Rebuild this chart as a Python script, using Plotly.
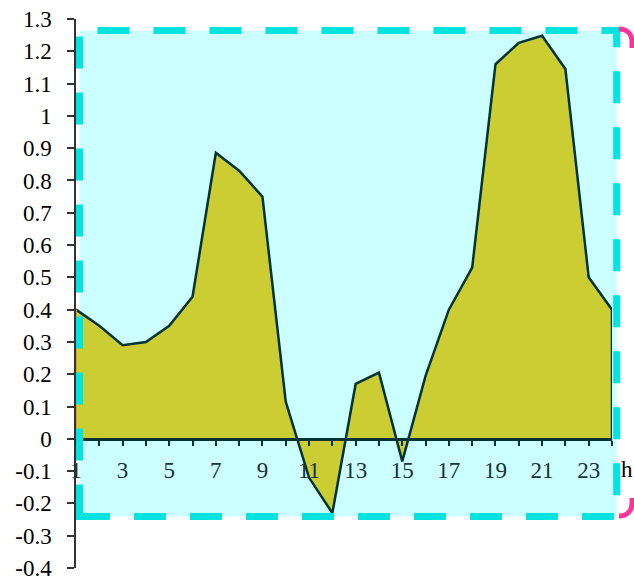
import plotly.graph_objects as go

# Hourly values (h = 1..24)
hours = list(range(1, 25))
values = [0.40, 0.35, 0.29, 0.30, 0.35, 0.44, 0.886, 0.83, 0.75, 0.115, -0.12, -0.23,
          0.17, 0.205, -0.07, 0.195, 0.40, 0.53, 1.16, 1.226, 1.248, 1.145, 0.50, 0.40]

x_tick_vals = hours
x_tick_text = [str(h) if h % 2 == 1 else "" for h in hours]
y_tick_vals = [round(-0.4 + 0.1 * i, 1) for i in range(18)]
y_tick_text = ["-0.4", "-0.3", "-0.2", "-0.1", "0", "0.1", "0.2", "0.3", "0.4", "0.5",
               "0.6", "0.7", "0.8", "0.9", "1", "1.1", "1.2", "1.3"]

W, H = 634, 576
L, R, T, B = 76, 22, 19, 8
PW, PH = W - L - R, H - T - B


def px(x):
    return (x - L) / PW


def py(y):
    return (H - B - y) / PH


SERIF = "Liberation Serif, Times New Roman, serif"
LINE = "#003333"

fig = go.Figure()

fig.add_trace(go.Scatter(
    x=hours, y=values, mode="lines", fill="tozeroy",
    fillcolor="#CCCC33", line=dict(color=LINE, width=2.5),
    hoverinfo="skip", showlegend=False,
))
# closing edges of the area at both ends
fig.add_trace(go.Scatter(
    x=[hours[-1], hours[-1]], y=[values[-1], 0], mode="lines",
    line=dict(color=LINE, width=2.5), hoverinfo="skip", showlegend=False,
))
fig.add_trace(go.Scatter(
    x=[hours[0], hours[0]], y=[0, values[0]], mode="lines",
    line=dict(color="#E8A317", width=2), hoverinfo="skip", showlegend=False,
))

x0, x1, ytop, ybot = 79.5, 616.7, 30.5, 516.5
# pale cyan panel behind the series
fig.add_shape(type="rect", xref="paper", yref="paper",
              x0=px(x0), x1=px(x1), y0=py(ybot), y1=py(ytop),
              fillcolor="#CCFFFF", line=dict(width=0), layer="below")
# dashed cyan frame, traced from the bottom-left corner upward
frame = (f"M{px(x0)},{py(ybot)} V{py(ytop)} H{px(x1)} V{py(ybot)} Z")
fig.add_shape(type="path", xref="paper", yref="paper", path=frame,
              line=dict(color="#00E3DF", width=7, dash="32px,24px"), layer="above")

# pink rounded corners on the right side
tr = (f"M{px(619)},{py(29)} C{px(627)},{py(29)} {px(632)},{py(34)} {px(632)},{py(42)} "
      f"L{px(632)},{py(48)}")
br = (f"M{px(632)},{py(498)} L{px(632)},{py(503)} C{px(632)},{py(511)} "
      f"{px(627)},{py(516)} {px(619)},{py(516)}")
for p in (tr, br):
    fig.add_shape(type="path", xref="paper", yref="paper", path=p,
                  line=dict(color="#FF3399", width=5), layer="above")

fig.add_annotation(text="h", xref="paper", yref="paper", x=px(619), y=py(469),
                   xanchor="left", yanchor="middle", showarrow=False,
                   font=dict(family=SERIF, size=23, color="#000000"))

fig.update_layout(
    width=W, height=H,
    margin=dict(l=L, r=R, t=T, b=B, pad=0, autoexpand=False),
    paper_bgcolor="white", plot_bgcolor="rgba(0,0,0,0)",
    showlegend=False,
    xaxis=dict(
        range=[1, 24], anchor="free", position=0.4 / 1.7, automargin=False,
        showgrid=False, zeroline=False,
        showline=True, linecolor=LINE, linewidth=2.5,
        ticks="outside", ticklen=5, tickwidth=1.5, tickcolor=LINE,
        tickvals=x_tick_vals, ticktext=x_tick_text,
        ticklabelstandoff=5, ticklabeloverflow="allow",
        tickfont=dict(family=SERIF, size=23, color="#1A3333"),
    ),
    yaxis=dict(
        range=[-0.4, 1.3], automargin=False,
        showgrid=False, zeroline=False,
        showline=True, linecolor="#333333", linewidth=1.5,
        ticks="outside", ticklen=7, tickwidth=1.5, tickcolor="#333333",
        tickvals=y_tick_vals, ticktext=y_tick_text,
        ticklabelstandoff=11, ticklabeloverflow="allow",
        tickfont=dict(family=SERIF, size=23, color="#000000"),
    ),
)

fig.write_html("out.html")
